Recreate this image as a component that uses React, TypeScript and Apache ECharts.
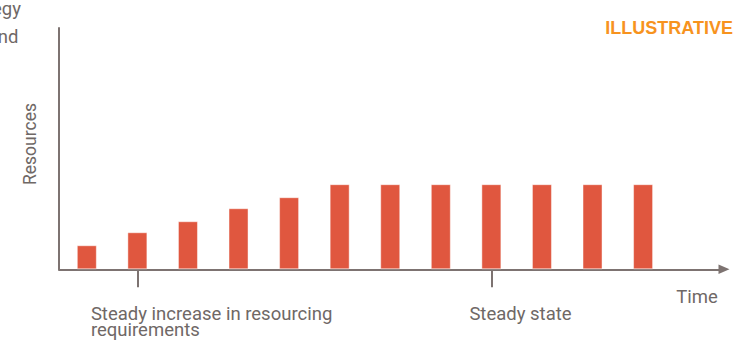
import React, { useEffect, useRef } from "react";
import * as echarts from "echarts";

// Resourcing profile over time: a ramp-up phase followed by a flat steady state
const periods = ["P1", "P2", "P3", "P4", "P5", "P6", "P7", "P8", "P9", "P10", "P11", "P12"];
const resources = [24, 37, 48, 61, 72, 85, 85, 85, 85, 85, 85, 85];

// Phase markers on the time axis (period position where each phase is flagged)
const phaseTicks = [2, 9];
const phaseLabels = ["Steady increase in resourcing\nrequirements", "Steady state"];
const phaseLabelShift = [-46.5, -22];

const AXIS_COLOR = "#7d7371";
const TEXT_COLOR = "#6f6866";
const BAR_COLOR = "#e0573f";
const BADGE_COLOR = "#f7931e";
const FONT = "Roboto, 'Noto Sans', sans-serif";

export default function App() {
  const ref = useRef<HTMLDivElement>(null);

  useEffect(() => {
    if (!ref.current) return;
    const chart = echarts.init(ref.current, undefined, { renderer: "svg" });

    const baseOption: any = {
      animation: false,
      backgroundColor: "#ffffff",
      grid: { left: 59, right: 10, top: 28, bottom: 70.7 },
      xAxis: {
        type: "value",
        min: 0.45,
        max: 13.6,
        splitLine: { show: false },
        axisLine: {
          show: true,
          symbol: ["none", "triangle"],
          symbolSize: [9.4, 11],
          lineStyle: { color: AXIS_COLOR, width: 2 },
        },
        axisTick: {
          show: true,
          customValues: phaseTicks,
          length: 18,
          lineStyle: { color: AXIS_COLOR, width: 2 },
        },
        axisLabel: { show: false },
      },
      yAxis: {
        type: "value",
        min: 0,
        max: 241,
        splitLine: { show: false },
        axisTick: { show: false },
        axisLabel: { show: false },
        axisLine: { show: true, lineStyle: { color: AXIS_COLOR, width: 2 } },
      },
      series: [
        {
          type: "bar",
          barWidth: 20,
          data: periods.map((_, i) => [i + 1, resources[i]]),
          itemStyle: {
            color: BAR_COLOR,
            borderColor: "rgba(255,255,255,0.45)",
            borderWidth: 1,
          },
        },
      ],
    };
    chart.setOption(baseOption);

    const phaseTexts = phaseTicks.map((v, i) => {
      const px = chart.convertToPixel({ xAxisIndex: 0 }, v) as number;
      return {
        type: "text",
        x: px + phaseLabelShift[i],
        y: 306,
        style: {
          text: phaseLabels[i],
          fill: TEXT_COLOR,
          fontSize: 18.5,
          lineHeight: 16,
          fontFamily: FONT,
          align: "left",
          verticalAlign: "top",
        },
      };
    });

    chart.setOption({
      graphic: [
        {
          type: "text",
          x: 21,
          y: 9,
          style: { text: "egy", fill: TEXT_COLOR, fontSize: 18.5, fontFamily: FONT, align: "right", verticalAlign: "middle" },
        },
        {
          type: "text",
          x: 18.5,
          y: 37,
          style: { text: "nd", fill: TEXT_COLOR, fontSize: 18.5, fontFamily: FONT, align: "right", verticalAlign: "middle" },
        },
        {
          type: "text",
          x: 733,
          y: 28,
          style: {
            text: "ILLUSTRATIVE",
            fill: BADGE_COLOR,
            fontSize: 18,
            fontWeight: "bold",
            fontFamily: "'Liberation Sans', Arial, sans-serif",
            align: "right",
            verticalAlign: "middle",
          },
        },
        {
          type: "text",
          x: 30.3,
          y: 144,
          rotation: Math.PI / 2,
          style: { text: "Resources", fill: TEXT_COLOR, fontSize: 17.5, fontFamily: FONT, align: "center", verticalAlign: "middle" },
        },
        {
          type: "text",
          x: 697,
          y: 297,
          style: { text: "Time", fill: TEXT_COLOR, fontSize: 18.5, fontFamily: FONT, align: "center", verticalAlign: "middle" },
        },
        ...phaseTexts,
      ],
    });

    return () => chart.dispose();
  }, []);

  return (
    <div
      ref={ref}
      style={{ position: "absolute", left: 0, top: 0, width: 734, height: 340 }}
    />
  );
}
